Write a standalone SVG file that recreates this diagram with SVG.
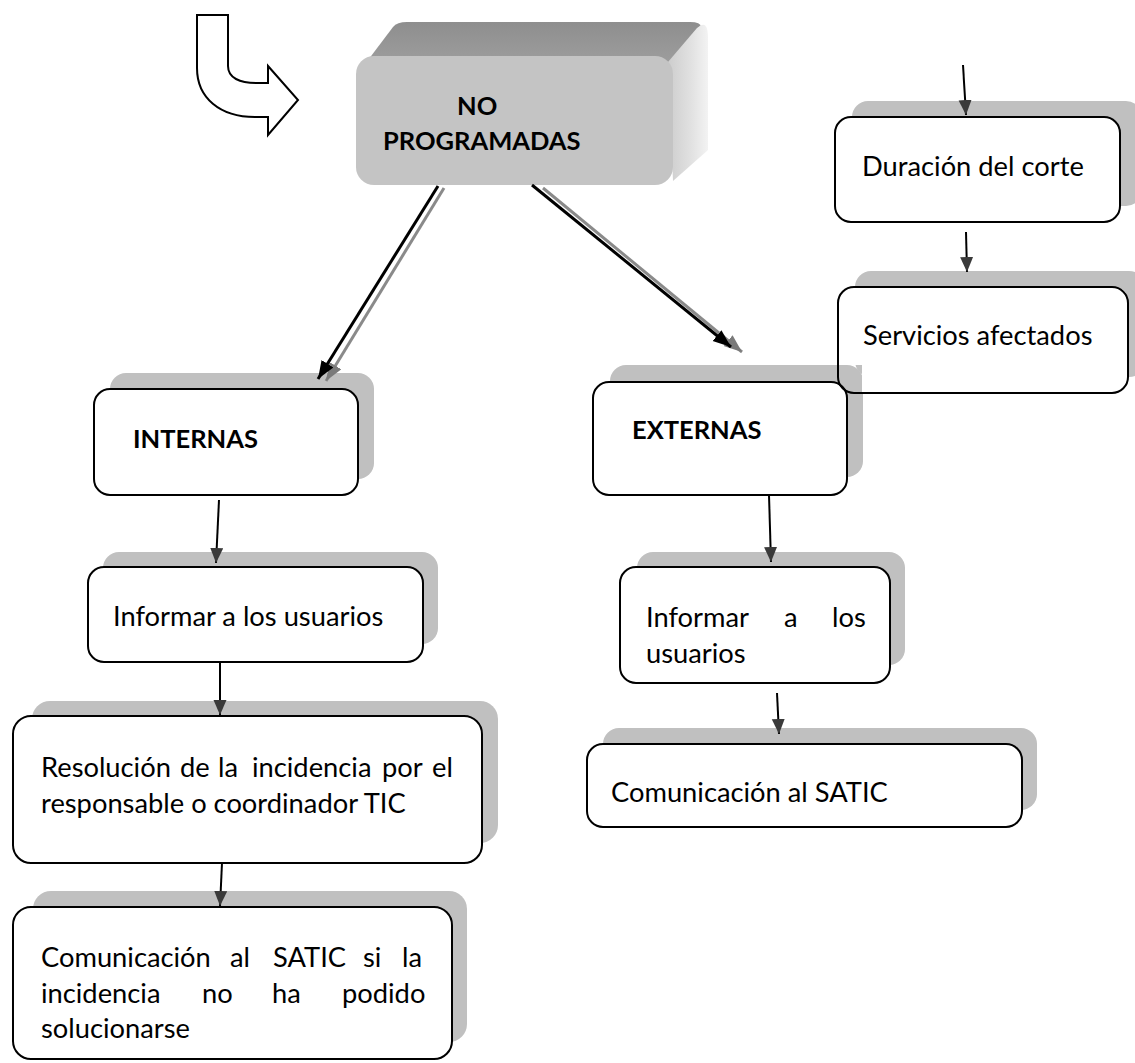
<svg xmlns="http://www.w3.org/2000/svg" width="1135" height="1063" viewBox="0 0 1135 1063">
<style>
.sh{fill:#c0c0c0;stroke:none}
.bx{fill:#ffffff;stroke:#000000;stroke-width:2}
.ol{fill:none;stroke:#000000;stroke-width:2}
.t{font-family:Lato,"Liberation Sans",sans-serif;font-size:27.3px;fill:#000000}
.b{font-family:Lato,"Liberation Sans",sans-serif;font-size:25.5px;font-weight:bold;fill:#000000}
.v{stroke:#000000;stroke-width:2;fill:none}
.dk{stroke:#000000;stroke-width:3;fill:none}
.gr{stroke:#8a8a8a;stroke-width:3;fill:none}
</style>
<defs>
<marker id="ahv" markerUnits="userSpaceOnUse" markerWidth="16" markerHeight="14" refX="15" refY="6.5" orient="auto">
<path d="M0,0 L15,6.5 L0,13 Z" fill="#3a3a3a"/>
</marker>
<marker id="ahb" markerUnits="userSpaceOnUse" markerWidth="18" markerHeight="16" refX="18" refY="7" orient="auto">
<path d="M0,0 L18,7 L0,14 Z" fill="#000000"/>
</marker>
<marker id="ahg" markerUnits="userSpaceOnUse" markerWidth="18" markerHeight="16" refX="18" refY="7" orient="auto">
<path d="M0,0 L18,7 L0,14 Z" fill="#7a7a7a"/>
</marker>
<linearGradient id="gtop" x1="0" y1="0" x2="0" y2="1">
<stop offset="0" stop-color="#8e8e8e"/>
<stop offset="1" stop-color="#a2a2a2"/>
</linearGradient>
<linearGradient id="gright" x1="0" y1="0" x2="1" y2="0">
<stop offset="0" stop-color="#cdcdcd"/>
<stop offset="0.6" stop-color="#e2e2e2"/>
<stop offset="1" stop-color="#f3f3f3"/>
</linearGradient>
</defs>

<g id="bent-arrow">
<path d="M197,15 H228 V66 C228,78 240,83 256,83 H268 V66 L298,100 L268,135 V117 H255 C220,117 197,98 197,68 Z" fill="#ffffff" stroke="#000000" stroke-width="2" stroke-linejoin="miter"/>
</g>

<g id="no-programadas">
<path d="M356,76 L393,27 Q397,22 407,22 L690,22 Q704,22 700,30 L673,66 Z" fill="url(#gtop)"/>
<path d="M668,62 L697,28 Q708,18 708,38 L708,150 L673,181 Z" fill="url(#gright)"/>
<rect x="356" y="56" width="317" height="129" rx="18" fill="#c4c4c4"/>
<text class="b" x="457" y="115">NO</text>
<text class="b" x="383" y="150">PROGRAMADAS</text>
</g>

<g id="duracion">
<rect class="sh" x="852" y="101" width="290" height="105" rx="16"/>
<rect class="bx" x="835" y="117" width="285" height="105" rx="16"/>
<text class="t" x="862" y="176">Duración del corte</text>
</g>

<g id="internas">
<rect class="sh" x="110" y="373" width="264" height="106" rx="16"/>
<rect class="bx" x="94" y="389" width="264" height="106" rx="16"/>
<text class="b" x="133" y="448">INTERNAS</text>
</g>

<g id="externas">
<rect class="sh" x="610" y="365" width="253" height="112" rx="16"/>
<rect class="bx" x="593" y="382" width="254" height="113" rx="16"/>
<text class="b" x="632" y="439">EXTERNAS</text>
</g>

<g id="servicios">
<rect class="sh" x="855" y="271" width="290" height="106" rx="16"/>
<path d="M853,287 H1113 Q1128,287 1128,302 V378 Q1128,393 1113,393 H862 V365 H838 V302 Q838,287 853,287 Z" fill="#ffffff"/>
<rect class="ol" x="838" y="287" width="290" height="106" rx="16"/>
<text class="t" x="863" y="345">Servicios afectados</text>
</g>

<g id="informar-int">
<rect class="sh" x="103" y="552" width="335" height="92" rx="16"/>
<rect class="bx" x="88" y="567" width="335" height="95" rx="16"/>
<text class="t" x="113" y="626">Informar a los usuarios</text>
</g>

<g id="informar-ext">
<rect class="sh" x="637" y="552" width="268" height="113" rx="16"/>
<rect class="bx" x="620" y="567" width="270" height="116" rx="16"/>
<text class="t" y="627"><tspan x="646">Informar</tspan><tspan x="784">a</tspan><tspan x="832">los</tspan></text>
<text class="t" x="646" y="663">usuarios</text>
</g>

<g id="resolucion">
<rect class="sh" x="32" y="701" width="466" height="142" rx="18"/>
<rect class="bx" x="13" y="716" width="469" height="147" rx="18"/>
<text class="t" y="777"><tspan x="41">Resolución</tspan><tspan x="180">de</tspan><tspan x="218">la</tspan><tspan x="252">incidencia</tspan><tspan x="382">por</tspan><tspan x="432">el</tspan></text>
<text class="t" x="41" y="813">responsable o coordinador TIC</text>
</g>

<g id="comunicacion-ext">
<rect class="sh" x="603" y="728" width="434" height="82" rx="16"/>
<rect class="bx" x="587" y="744" width="435" height="83" rx="16"/>
<text class="t" x="611" y="802">Comunicación al SATIC</text>
</g>

<g id="comunicacion-int">
<rect class="sh" x="33" y="891" width="434" height="151" rx="18"/>
<rect class="bx" x="13" y="907" width="439" height="152" rx="18"/>
<text class="t" y="967"><tspan x="41">Comunicación</tspan><tspan x="230">al</tspan><tspan x="273">SATIC</tspan><tspan x="363">si</tspan><tspan x="402">la</tspan></text>
<text class="t" y="1003"><tspan x="41">incidencia</tspan><tspan x="202">no</tspan><tspan x="272">ha</tspan><tspan x="342">podido</tspan></text>
<text class="t" x="41" y="1038">solucionarse</text>
</g>

<g id="connectors">
<line class="gr" x1="444" y1="188" x2="326" y2="381" marker-end="url(#ahg)"/>
<line class="dk" x1="438" y1="186" x2="318" y2="379" marker-end="url(#ahb)"/>
<line class="gr" x1="543" y1="188" x2="742" y2="352" marker-end="url(#ahg)"/>
<line class="dk" x1="532" y1="185" x2="731" y2="347" marker-end="url(#ahb)"/>
<line class="v" x1="963" y1="65" x2="966" y2="115" marker-end="url(#ahv)"/>
<line class="v" x1="966" y1="232" x2="967" y2="272" marker-end="url(#ahv)"/>
<line class="v" x1="219" y1="500" x2="216" y2="563" marker-end="url(#ahv)"/>
<line class="v" x1="769" y1="495" x2="771" y2="562" marker-end="url(#ahv)"/>
<line class="v" x1="220" y1="662" x2="220" y2="715" marker-end="url(#ahv)"/>
<line class="v" x1="777" y1="693" x2="779" y2="734" marker-end="url(#ahv)"/>
<line class="v" x1="222" y1="863" x2="220" y2="906" marker-end="url(#ahv)"/>
</g>
</svg>
